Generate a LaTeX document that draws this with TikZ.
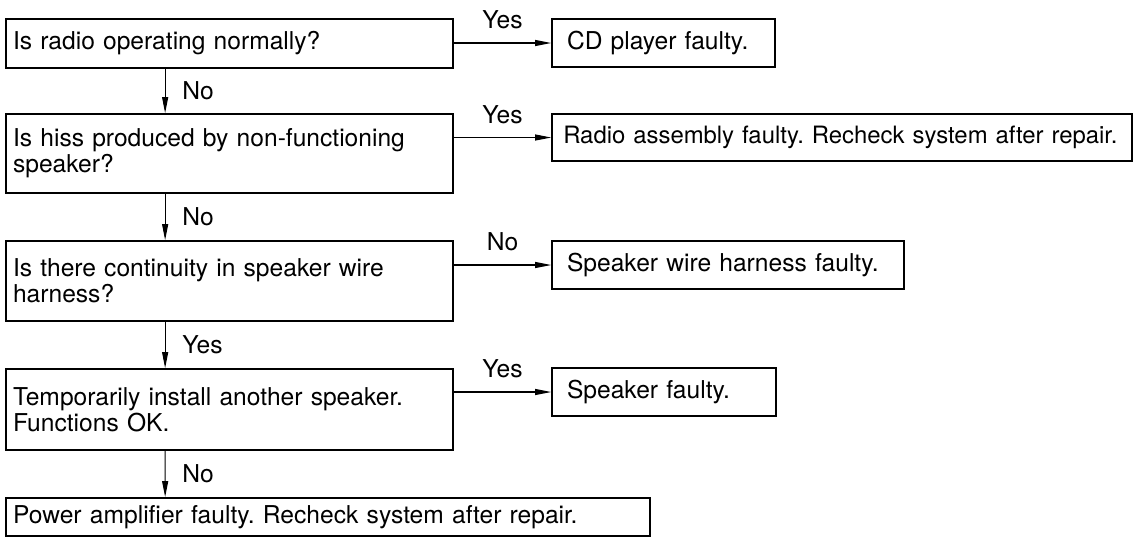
\documentclass[tikz,border=0pt]{standalone}
\usepackage{fontspec}
\setmainfont{TeX Gyre Heros}
\usepackage{tikz}
\usetikzlibrary{arrows.meta, positioning}
\frenchspacing

\begin{document}
\begin{tikzpicture}[
    x=0.02cm, y=-0.02cm,
    >={Triangle[length=0.32cm, width=0.12cm]},
    every node/.style={font=\fontsize{14}{14.8}\selectfont},
    qbox/.style={draw, line width=1pt, align=left, inner xsep=0.14cm, inner ysep=2pt,
                 text width=8.66cm},
    abox/.style={draw, line width=1pt, align=left, inner xsep=0.3cm, inner ysep=2pt,
                 minimum height=0.96cm},
    link/.style={->, line width=0.6pt},
    lbl/.style={text depth=0pt, inner sep=1pt},
]
    \useasboundingbox (0,0) rectangle (1136,538);

    % Checks down the left
    \node[qbox, minimum height=0.98cm] (radio) at (229.5,43.5) {Is radio operating normally?};
    \node[qbox, minimum height=1.58cm] (hiss) at (229.5,153.5) {Is hiss produced by non-functioning\\speaker?};
    \node[qbox, minimum height=1.6cm] (wire) at (229.5,281) {Is there continuity in speaker wire\\harness?};
    \node[qbox, minimum height=1.62cm] (swap) at (229.5,409.5) {Temporarily install another speaker.\\Functions OK.};
    \node[qbox, text width=12.6cm, minimum height=0.76cm] (amp) at (328,517) {Power amplifier faulty. Recheck system after repair.};

    % Results on the right
    \node[abox, text width=3.86cm] (cd) at (663.5,43) {CD player faulty.};
    \node[abox, text width=11.15cm, inner xsep=0.225cm, minimum height=0.94cm,
          font=\fontsize{13.6}{14.8}\selectfont] (assy) at (842,137.5) {Radio assembly faulty. Recheck system after repair.};
    \node[abox, text width=6.44cm] (harn) at (728,265) {Speaker wire harness faulty.};
    \node[abox, text width=3.88cm] (spk) at (664,392) {Speaker faulty.};

    % Down the chain
    \draw[link] ([xshift=3.2cm]radio.south west) -- node[lbl, right=0.3cm] {No} ([xshift=3.2cm]hiss.north west);
    \draw[link] ([xshift=3.2cm]hiss.south west) -- node[lbl, right=0.3cm] {No} ([xshift=3.2cm]wire.north west);
    \draw[link] ([xshift=3.2cm]wire.south west) -- node[lbl, right=0.3cm] {Yes} ([xshift=3.2cm]swap.north west);
    \draw[link] ([xshift=3.2cm]swap.south west) -- node[lbl, right=0.3cm] {No} ([xshift=3.2cm]amp.north west);

    % Across to the results
    \draw[link] (cd.west -| radio.east) -- node[lbl, above=0.24cm] {Yes} (cd.west);
    \draw[link] (assy.west -| hiss.east) -- node[lbl, above=0.24cm] {Yes} (assy.west);
    \draw[link] (harn.west -| wire.east) -- node[lbl, above=0.24cm] {No} (harn.west);
    \draw[link] (spk.west -| swap.east) -- node[lbl, above=0.24cm] {Yes} (spk.west);
\end{tikzpicture}
\end{document}
